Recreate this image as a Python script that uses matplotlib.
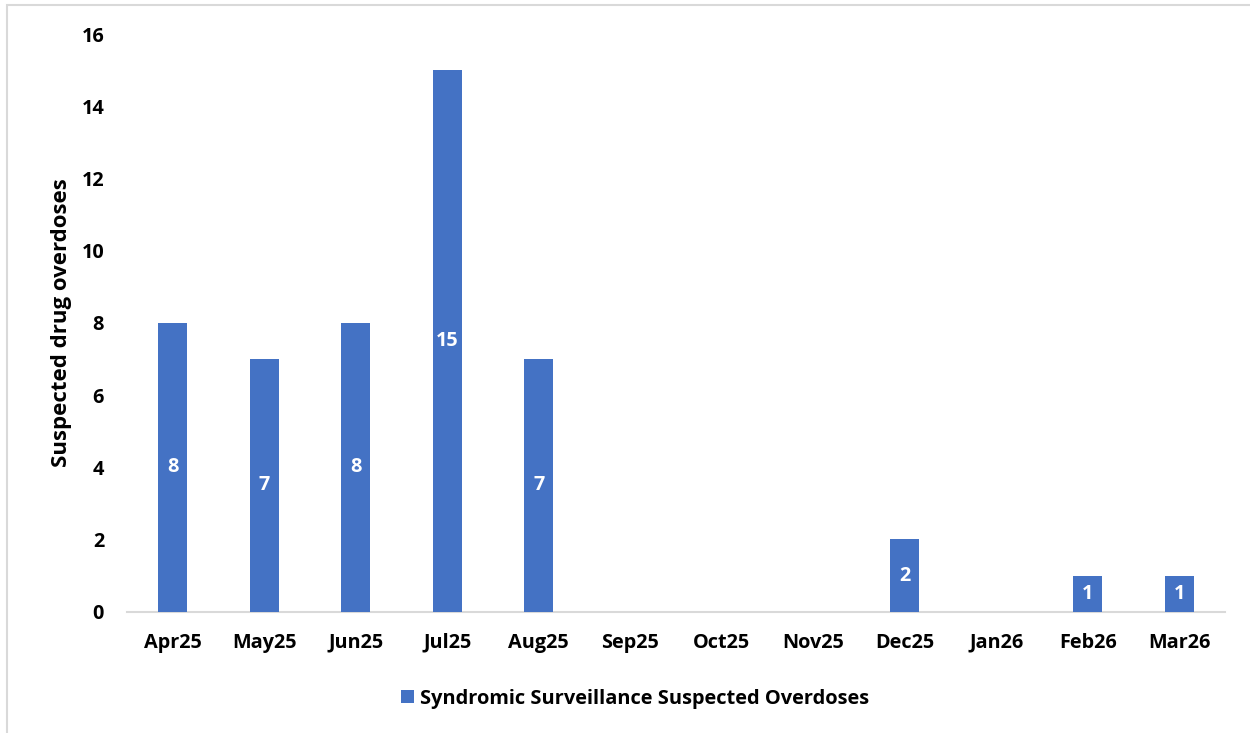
import matplotlib
matplotlib.use("Agg")
import matplotlib.pyplot as plt
from matplotlib.patches import Rectangle

months = ["Apr25", "May25", "Jun25", "Jul25", "Aug25", "Sep25", "Oct25",
          "Nov25", "Dec25", "Jan26", "Feb26", "Mar26"]
overdoses = [8, 7, 8, 15, 7, 0, 0, 0, 2, 0, 1, 1]
series_name = "Syndromic Surveillance Suspected Overdoses"
y_ticks = [0, 2, 4, 6, 8, 10, 12, 14, 16]

plt.rcParams['font.family'] = ['Open Sans', 'DejaVu Sans']
plt.rcParams['font.weight'] = 'bold'

fig = plt.figure(figsize=(12.5, 7.33), dpi=100)
ax = fig.add_axes([0.1016, 0.1655, 0.8784, 0.7881])

bar_color = "#4472C4"
x = list(range(len(months)))
bars = ax.bar(x, overdoses, width=0.32, color=bar_color, label=series_name, zorder=3)

for xi, v in zip(x, overdoses):
    if v > 0:
        ax.text(xi, v / 2, str(v), ha='center', va='center', color='white',
                fontsize=14.3, fontweight='bold', zorder=4)

ax.set_xlim(-0.5, len(months) - 0.5)
ax.set_ylim(0, 16)
ax.set_yticks(y_ticks)
ax.set_yticklabels([str(t) for t in y_ticks], fontsize=14.3, fontweight='bold')
ax.set_xticks(x)
ax.set_xticklabels(months, fontsize=14.3, fontweight='bold')
ax.tick_params(axis='both', length=0)
ax.tick_params(axis='y', pad=16.5)
ax.tick_params(axis='x', pad=15)

for s in ['top', 'right', 'left']:
    ax.spines[s].set_visible(False)
ax.spines['bottom'].set_color('#D9D9D9')
ax.spines['bottom'].set_linewidth(1.5)
ax.spines['bottom'].set_zorder(2)

ax.set_ylabel("Suspected drug overdoses", fontsize=16, fontweight='bold', labelpad=7)

leg = fig.legend(handles=[bars], labels=[series_name], loc='center',
                 bbox_to_anchor=(0.508, 0.047), frameon=False,
                 prop={'size': 14.4, 'weight': 'bold'}, handlelength=0.65,
                 handleheight=0.65, handletextpad=0.3)

# outer chart border
fig.patches.append(Rectangle((7 / 1250, -0.05), 1.2, 1 - 5 / 733 + 0.05,
                             transform=fig.transFigure, fill=False,
                             edgecolor='#D9D9D9', linewidth=1.5))

fig.savefig("out.png", dpi=100)
